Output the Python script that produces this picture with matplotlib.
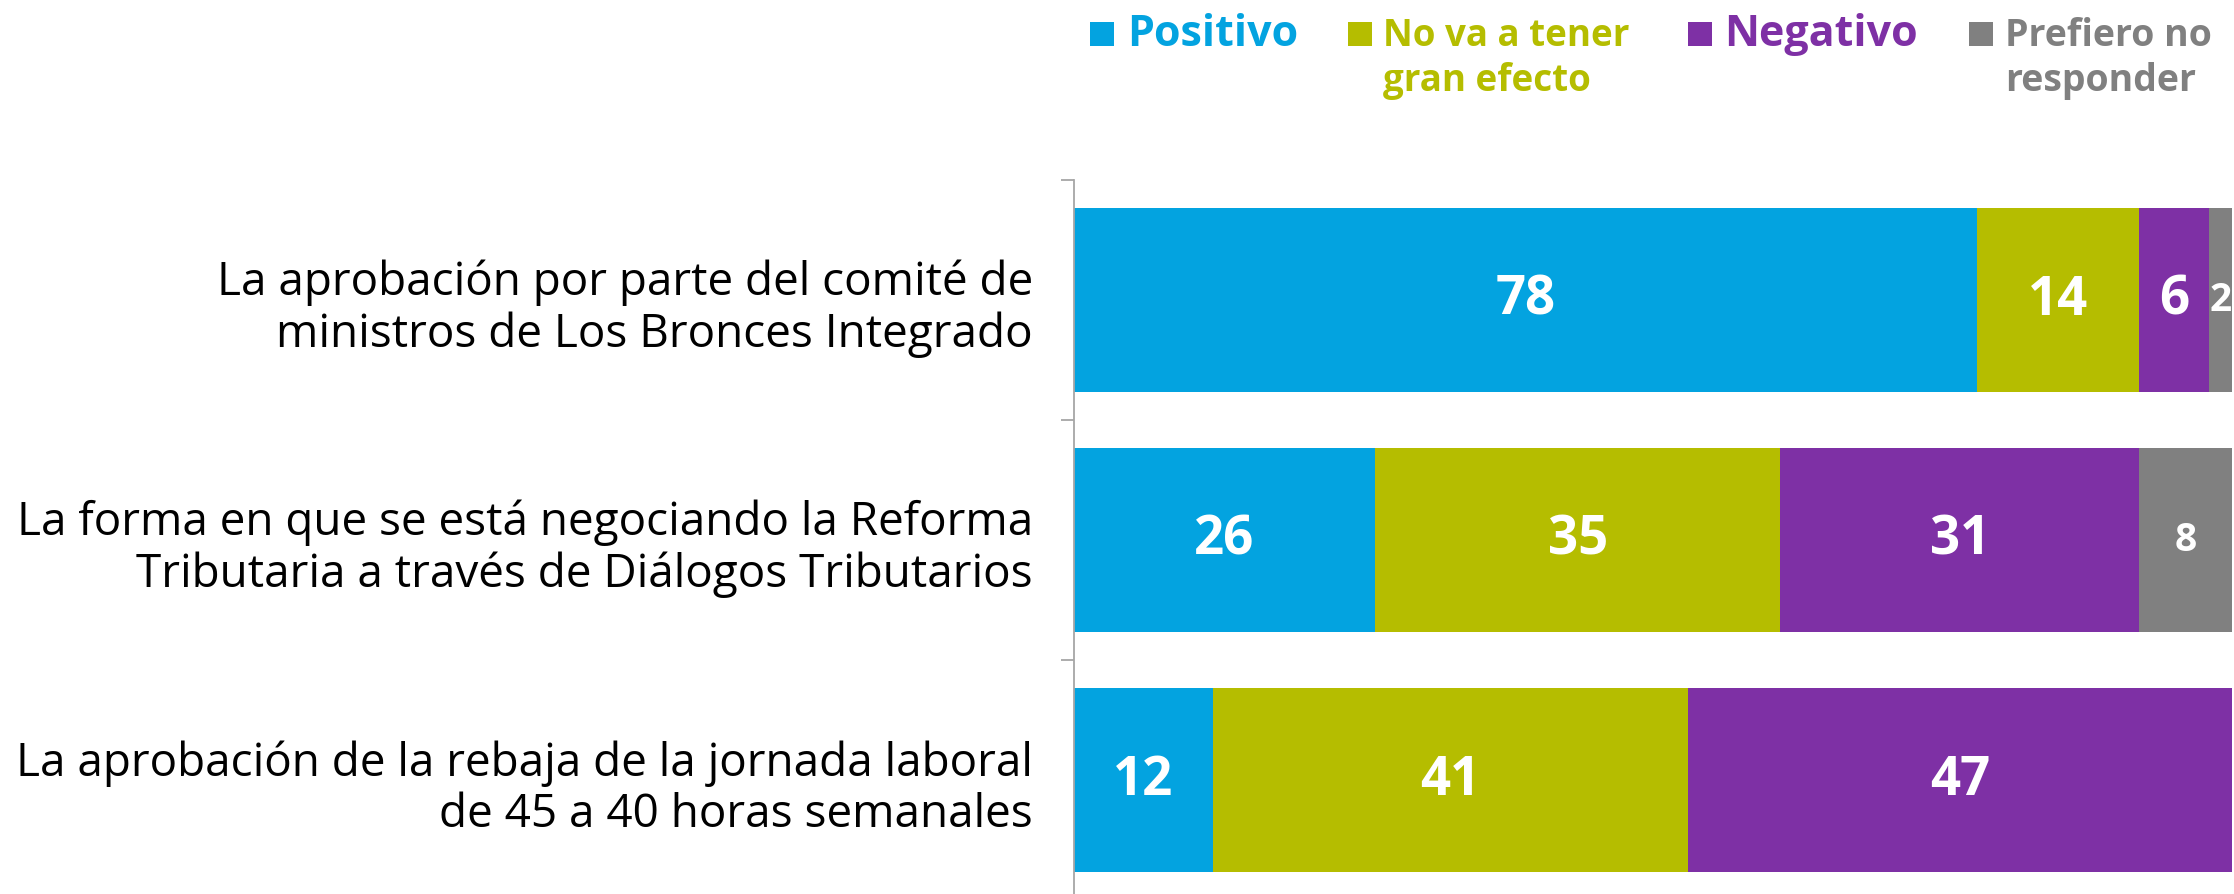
import numpy as np
import matplotlib.pyplot as plt
from matplotlib.patches import Rectangle
from matplotlib.transforms import ScaledTranslation

# data
categories = [
    "La aprobación por parte del comité de\nministros de Los Bronces Integrado",
    "La forma en que se está negociando la Reforma\nTributaria a través de Diálogos Tributarios",
    "La aprobación de la rebaja de la jornada laboral\nde 45 a 40 horas semanales",
]
series_names = ["Positivo", "No va a tener\ngran efecto", "Negativo", "Prefiero no\nresponder"]
positivo = [78, 26, 12]
no_efecto = [14, 35, 41]
negativo = [6, 31, 47]
prefiero = [2, 8, 0]

colors = ["#03A3E0", "#B5BD00", "#7E30A5", "#808080"]
values = [positivo, no_efecto, negativo, prefiero]

FONT = "Open Sans"
W, H = 2234, 895
fig = plt.figure(figsize=(W / 100, H / 100), dpi=100)
# axes: left spine at x=1074, top at y=181, one row = 240 px
ax = fig.add_axes([1074 / W, (H - 901) / H, (2232 - 1074) / W, 720 / H])

y = np.arange(len(categories))
left = np.zeros(len(categories))
for k, (vals, col) in enumerate(zip(values, colors)):
    vals = np.array(vals, dtype=float)
    ax.barh(y, vals, left=left, height=0.77, color=col, edgecolor="none")
    for i, v in enumerate(vals):
        if v <= 0:
            continue
        size = 28 if k == 3 else 38
        ax.text(left[i] + v / 2, y[i], "%d" % v, ha="center", va="center",
                color="white", fontsize=size, fontweight="bold", family=FONT)
    left += vals

ax.set_xlim(0, 100)
ax.set_ylim(2.5, -0.5)
ax.set_xticks([])
ax.set_yticks(y)
ax.set_yticklabels(categories, fontsize=33, family=FONT, linespacing=1.15,
                   color="black")
# nudge the category labels up a little
for lab in ax.get_yticklabels():
    lab.set_transform(lab.get_transform() + ScaledTranslation(0, 4 / 72, fig.dpi_scale_trans))
ax.set_yticks(np.arange(-0.5, 3, 1), minor=True)
ax.tick_params(axis="y", which="major", length=0, pad=29.5)
ax.tick_params(axis="y", which="minor", length=9.5, width=1.3, color="#A6A6A6")
for s in ["top", "right", "bottom"]:
    ax.spines[s].set_visible(False)
ax.spines["left"].set_color("#A6A6A6")
ax.spines["left"].set_linewidth(1.3)

# legend, drawn by hand (square aligned with first line)
leg_sq_x = [1090, 1348, 1688, 1969]
leg_tx_x = [1127, 1383, 1724, 2005]
leg_size = [31, 26.5, 31, 27]
for name, col, sx, tx, fs in zip(series_names, colors, leg_sq_x, leg_tx_x, leg_size):
    fig.add_artist(Rectangle((sx / W, 1 - 47 / H), 24 / W, 24 / H,
                             transform=fig.transFigure, color=col, lw=0))
    for j, line in enumerate(name.split("\n")):
        fig.text(tx / W, 1 - (46 + 45 * j) / H, line, ha="left", va="baseline",
                 color=col, fontsize=fs, fontweight="bold", family=FONT)

fig.savefig("out.png", dpi=100)
